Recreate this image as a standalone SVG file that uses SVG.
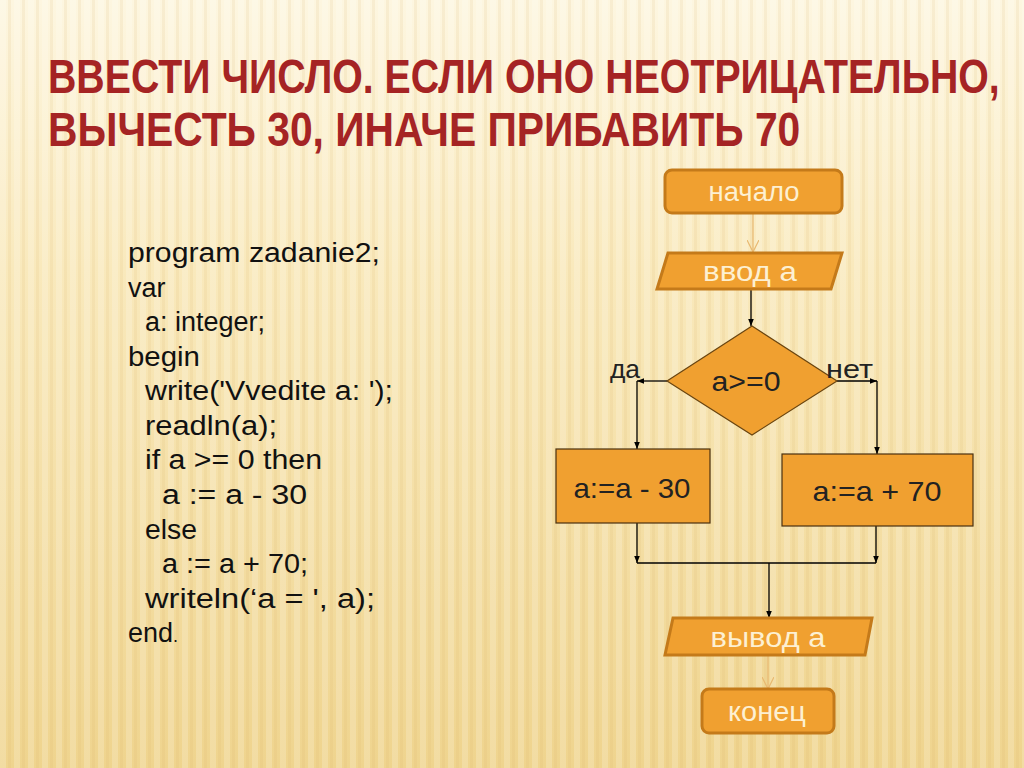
<svg xmlns="http://www.w3.org/2000/svg" width="1024" height="768" viewBox="0 0 1024 768">
<defs>
<linearGradient id="bg" x1="0" y1="0" x2="0" y2="1">
<stop offset="0" stop-color="#fdf6e0"/>
<stop offset="0.35" stop-color="#f9e9bc"/>
<stop offset="1" stop-color="#efd48e"/>
</linearGradient>
<pattern id="stripes" width="14" height="768" patternUnits="userSpaceOnUse">
<rect x="0" y="0" width="6" height="768" fill="#ffffff" opacity="0.18"/>
<rect x="8" y="0" width="3" height="768" fill="#d9b060" opacity="0.12"/>
</pattern>
<linearGradient id="hl" x1="0" y1="0" x2="1" y2="0">
<stop offset="0" stop-color="#d9a850" stop-opacity="0"/>
<stop offset="0.2" stop-color="#d9a850" stop-opacity="0.9"/>
<stop offset="1" stop-color="#d9a850" stop-opacity="0.9"/>
</linearGradient>
<marker id="ah" viewBox="0 0 10 10" refX="10" refY="5" markerWidth="7" markerHeight="7" orient="auto" markerUnits="userSpaceOnUse">
<path d="M0,1 L10,5 L0,9 Z" fill="#000"/>
</marker>
<marker id="ahl" viewBox="0 0 10 10" refX="10" refY="5" markerWidth="12" markerHeight="12" orient="auto" markerUnits="userSpaceOnUse">
<path d="M0,0 L10,5 L0,10" fill="none" stroke="#e8b870" stroke-width="1"/>
</marker>
<style>
.title{font-family:"Liberation Sans",Arial,sans-serif;font-weight:bold;font-size:48px;fill:#a52424;}
.code{font-family:"Liberation Sans",Arial,sans-serif;font-size:27px;fill:#111;}
.term{fill:#f0a030;stroke:#c47a1a;stroke-width:3;}
.io{fill:#f0a030;stroke:#c47a1a;stroke-width:3;}
.proc{fill:#f0a030;stroke:#4a3010;stroke-width:1.2;}
.lt{font-family:"Liberation Sans",Arial,sans-serif;font-size:27px;fill:#fdf0d2;text-anchor:middle;}
.dt{font-family:"Liberation Sans",Arial,sans-serif;font-size:28px;fill:#222;text-anchor:middle;}
.lab{font-family:"Liberation Sans",Arial,sans-serif;font-size:25px;fill:#222;}
.ln{fill:none;stroke:#000;stroke-width:1.3;}
.lnl{fill:none;stroke:#e8b870;stroke-width:1.2;}
</style>
</defs>
<rect width="1024" height="768" fill="url(#bg)"/>
<rect width="1024" height="768" fill="url(#stripes)"/>
<line x1="150" y1="118" x2="1024" y2="118" stroke="url(#hl)" stroke-width="2"/>

<g id="title">
<text class="title" transform="translate(48,93) scale(0.75,1)" x="0" y="0" textLength="1269" lengthAdjust="spacingAndGlyphs">ВВЕСТИ ЧИСЛО. ЕСЛИ ОНО НЕОТРИЦАТЕЛЬНО,</text>
<text class="title" transform="translate(48,146) scale(0.75,1)" x="0" y="0" textLength="1003" lengthAdjust="spacingAndGlyphs">ВЫЧЕСТЬ 30, ИНАЧЕ ПРИБАВИТЬ 70</text>
</g>

<g id="code" class="code">
<text x="128" y="262" textLength="252" lengthAdjust="spacingAndGlyphs">program  zadanie2;</text>
<text x="128" y="297">var</text>
<text x="145" y="331" textLength="120" lengthAdjust="spacingAndGlyphs">a: integer;</text>
<text x="128" y="366" textLength="72" lengthAdjust="spacingAndGlyphs">begin</text>
<text x="145" y="400" textLength="248" lengthAdjust="spacingAndGlyphs">write('Vvedite  a: ');</text>
<text x="145" y="435" textLength="132" lengthAdjust="spacingAndGlyphs">readln(a);</text>
<text x="145" y="469" textLength="177" lengthAdjust="spacingAndGlyphs">if a &gt;= 0 then</text>
<text x="162" y="504" textLength="145" lengthAdjust="spacingAndGlyphs">a := a - 30</text>
<text x="145" y="539" textLength="52" lengthAdjust="spacingAndGlyphs">else</text>
<text x="162" y="573" textLength="146" lengthAdjust="spacingAndGlyphs">a := a + 70;</text>
<text x="145" y="608" textLength="230" lengthAdjust="spacingAndGlyphs">writeln(‘a = ', a);</text>
<text x="128" y="642">end<tspan font-size="18">.</tspan></text>
</g>

<g id="connectors">
<line class="lnl" x1="753" y1="214" x2="753" y2="252" marker-end="url(#ahl)"/>
<line class="ln" x1="751" y1="290" x2="751" y2="326" marker-end="url(#ah)"/>
<polyline class="ln" points="667,381 637,381" marker-end="url(#ah)"/>
<polyline class="ln" points="637,381 637,449" marker-end="url(#ah)"/>
<polyline class="ln" points="837,381 877,381" marker-end="url(#ah)"/>
<polyline class="ln" points="877,381 877,454" marker-end="url(#ah)"/>
<line class="ln" x1="637" y1="523" x2="637" y2="563" marker-end="url(#ah)"/>
<line class="ln" x1="876" y1="526" x2="876" y2="563" marker-end="url(#ah)"/>
<line class="ln" x1="637" y1="563" x2="876" y2="563"/>
<line class="ln" x1="769" y1="563" x2="769" y2="618" marker-end="url(#ah)"/>
<line class="lnl" x1="768" y1="656" x2="768" y2="689" marker-end="url(#ahl)"/>
</g>

<g id="start">
<rect class="term" x="665" y="170" width="177" height="43" rx="7"/>
<text class="lt" x="754" y="201" textLength="91" lengthAdjust="spacingAndGlyphs">начало</text>
</g>
<g id="input">
<polygon class="io" points="668,253 842,253 831,289 657,289"/>
<text class="lt" x="750" y="281" textLength="94" lengthAdjust="spacingAndGlyphs">ввод  а</text>
</g>
<g id="decision">
<polygon fill="#f0a030" stroke="#6a4510" stroke-width="1.2" points="752,326 837,381 752,435 667,381"/>
<text class="dt" x="746" y="391" textLength="69" lengthAdjust="spacingAndGlyphs">a&gt;=0</text>
</g>
<g id="labels">
<text class="lab" x="610" y="378" textLength="30" lengthAdjust="spacingAndGlyphs">да</text>
<text class="lab" x="826" y="378" textLength="47" lengthAdjust="spacingAndGlyphs">нет</text>
</g>
<g id="sub30">
<rect class="proc" x="556" y="449" width="154" height="74"/>
<text class="dt" x="632" y="498" textLength="117" lengthAdjust="spacingAndGlyphs">a:=a - 30</text>
</g>
<g id="add70">
<rect class="proc" x="782" y="454" width="191" height="72"/>
<text class="dt" x="877" y="501" textLength="129" lengthAdjust="spacingAndGlyphs">a:=a + 70</text>
</g>
<g id="output">
<polygon class="io" points="673,618 872,618 865,655 665,655"/>
<text class="lt" x="768" y="647" textLength="115" lengthAdjust="spacingAndGlyphs">вывод  а</text>
</g>
<g id="end">
<rect class="term" x="702" y="689" width="132" height="44" rx="7"/>
<text class="lt" x="767" y="721" textLength="78" lengthAdjust="spacingAndGlyphs">конец</text>
</g>
</svg>
